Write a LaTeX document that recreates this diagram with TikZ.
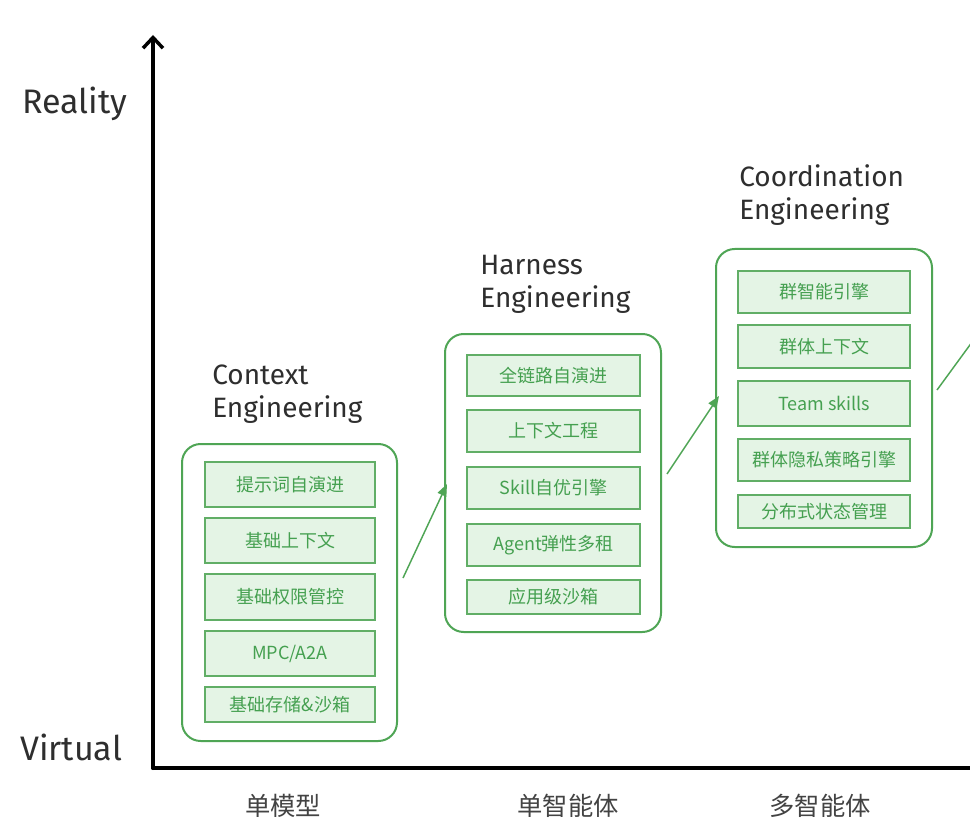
\documentclass[tikz,border=0pt]{standalone}
\usepackage{fontspec}
\setmainfont{Fira Sans}
\newfontfamily\cjk{Noto Sans CJK SC}
\newfontfamily\hand{Fira Sans}
\usetikzlibrary{arrows.meta,fit}
\definecolor{gline}{HTML}{4FA555}
\definecolor{gfill}{HTML}{E4F4E5}
\definecolor{gtext}{HTML}{45A050}
\definecolor{ink}{HTML}{2E2E2E}
\tikzset{
  outerbox/.style={draw=gline, line width=1.5pt, rounded corners=14pt, inner sep=0pt},
  innerbox/.style={draw=gline!90, fill=gfill, line width=0.8pt, inner sep=0pt},
  itemtext/.style={text=gtext, font=\cjk\fontsize{13.5}{15}\selectfont, inner sep=0pt},
  title/.style={text=ink, font=\hand\fontsize{21}{24.75}\selectfont, align=left, anchor=west, inner sep=0pt},
  axlabel/.style={text=ink, font=\hand\fontsize{25.5}{28}\selectfont, inner sep=0pt},
  catlabel/.style={text=ink!90, font=\cjk\fontsize{19}{21}\selectfont, inner sep=0pt},
  axis/.style={draw=black, line width=3pt, line cap=round, line join=round},
  flow/.style={draw=gline, line width=1.1pt, -{Triangle[length=9pt,width=7pt]}},
}
\begin{document}
\begin{tikzpicture}[x=0.75pt,y=-0.75pt]
\useasboundingbox (0,0) rectangle (970,834);
\fill[white] (0,0) rectangle (970,834);

% axes
\coordinate (O) at (153,768);
\coordinate (ytop) at (153,35);
\coordinate (xend) at (972,768);
\draw[axis] (O) -- (xend);
\draw[axis, -{Straight Barb[length=8pt,width=15pt,line width=2.6pt]}] (O) -- (ytop);

\node[axlabel, anchor=west] (reality) at (22,104) {Reality};
\node[axlabel, anchor=west] (virtual) at (20,747) {Virtual};

\node[catlabel] (c1) at (283,806) {单模型};
\node[catlabel] (c2) at (568,806) {单智能体};
\node[catlabel] (c3) at (820,806) {多智能体};

% Context Engineering
\node[title] (t1) at (212,394) {Context\\Engineering};
\node[outerbox, fit={(182,444)(397,741)}] (b1) {};
\node[innerbox, fit={(205,462)(375,507)}] (b1a) {};
\node[innerbox, fit={(205,518)(375,563)}] (b1b) {};
\node[innerbox, fit={(205,574)(375,620)}] (b1c) {};
\node[innerbox, fit={(205,631)(375,676)}] (b1d) {};
\node[innerbox, fit={(205,687)(375,722)}] (b1e) {};
\node[itemtext] (l1a) at (b1a.center) {提示词自演进};
\node[itemtext] (l1b) at (b1b.center) {基础上下文};
\node[itemtext] (l1c) at (b1c.center) {基础权限管控};
\node[itemtext] (l1d) at (b1d.center) {MPC/A2A};
\node[itemtext] (l1e) at (b1e.center) {基础存储\&沙箱};

% Harness Engineering
\node[title] (t2) at (480,284) {Harness\\Engineering};
\node[outerbox, fit={(445,334)(661,632)}] (b2) {};
\node[innerbox, fit={(467,355)(640,396)}] (b2a) {};
\node[innerbox, fit={(467,410)(640,452)}] (b2b) {};
\node[innerbox, fit={(467,467)(640,509)}] (b2c) {};
\node[innerbox, fit={(467,524)(640,566)}] (b2d) {};
\node[innerbox, fit={(467,580)(640,614)}] (b2e) {};
\node[itemtext] (l2a) at (b2a.center) {全链路自演进};
\node[itemtext] (l2b) at (b2b.center) {上下文工程};
\node[itemtext] (l2c) at (b2c.center) {Skill自优引擎};
\node[itemtext] (l2d) at (b2d.center) {Agent弹性多租};
\node[itemtext] (l2e) at (b2e.center) {应用级沙箱};

% Coordination Engineering
\node[title] (t3) at (739,195) {Coordination\\Engineering};
\node[outerbox, fit={(716,249)(932,547)}] (b3) {};
\node[innerbox, fit={(738,271)(910,313)}] (b3a) {};
\node[innerbox, fit={(738,325)(910,368)}] (b3b) {};
\node[innerbox, fit={(738,381)(910,426)}] (b3c) {};
\node[innerbox, fit={(738,439)(910,481)}] (b3d) {};
\node[innerbox, fit={(738,495)(910,528)}] (b3e) {};
\node[itemtext] (l3a) at (b3a.center) {群智能引擎};
\node[itemtext] (l3b) at (b3b.center) {群体上下文};
\node[itemtext] (l3c) at (b3c.center) {Team skills};
\node[itemtext] (l3d) at (b3d.center) {群体隐私策略引擎};
\node[itemtext] (l3e) at (b3e.center) {分布式状态管理};

% connectors
\coordinate (a1s) at (403,578);
\coordinate (a1e) at (447,484);
\coordinate (a2s) at (667,474);
\coordinate (a2e) at (719,396);
\coordinate (a3s) at (937,390);
\coordinate (a3e) at (975,338);
\draw[flow] (a1s) -- (a1e);
\draw[flow] (a2s) -- (a2e);
\draw[draw=gline, line width=1.1pt] (a3s) -- (a3e);
\end{tikzpicture}
\end{document}
